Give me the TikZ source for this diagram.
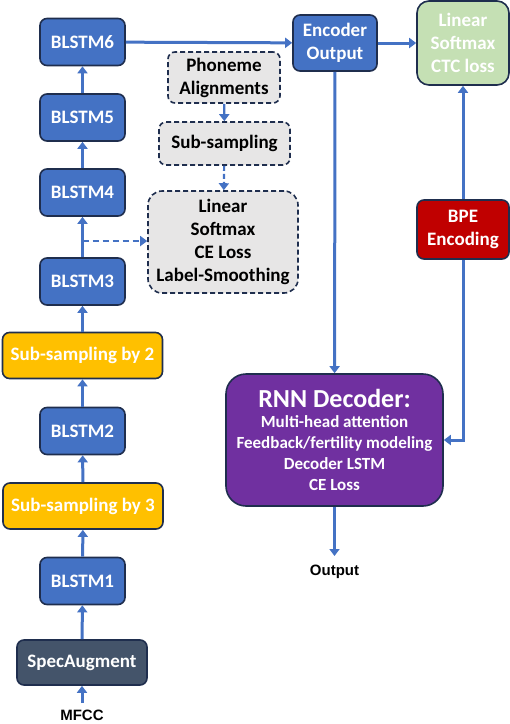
\documentclass[tikz,border=0pt]{standalone}
\usepackage{fontspec}
\setmainfont{Carlito}
\newfontfamily\arialf{Liberation Sans}
\usetikzlibrary{arrows.meta,calc}
\definecolor{bblue}{HTML}{4472C4}
\definecolor{navy}{HTML}{1F2E4E}
\definecolor{ggray}{HTML}{E7E6E6}
\definecolor{yell}{HTML}{FFC000}
\definecolor{slate}{HTML}{44546A}
\definecolor{purp}{HTML}{7030A0}
\definecolor{gree}{HTML}{C5E0B4}
\definecolor{bred}{HTML}{C00000}
\begin{document}
\begin{tikzpicture}[x=1pt,y=-1pt,
  box/.style={draw=navy,line width=1.6pt,rounded corners=7pt,align=center,inner sep=0pt,
     font=\fontsize{19}{23}\selectfont\bfseries},
  blstm/.style={box,fill=bblue,text=white,minimum width=85pt,minimum height=47pt},
  yellbox/.style={box,fill=yell,text=white,minimum width=160pt,minimum height=46pt},
  dbox/.style={box,dashed,dash pattern=on 5pt off 3pt,fill=ggray,text=black},
  arr/.style={draw=bblue,line width=3pt,-{Triangle[length=7pt,width=10pt]}},
  lbl/.style={font=\arialf\fontsize{15}{18}\selectfont\bfseries,inner sep=0pt}]
\useasboundingbox (0,0) rectangle (510,724);
% left column
\node[blstm] (b6) at (82.5,42) {BLSTM6};
\node[blstm] (b5) at (82.5,117.5) {BLSTM5};
\node[blstm] (b4) at (82.5,192.5) {BLSTM4};
\node[blstm] (b3) at (82.5,281.5) {BLSTM3};
\node[yellbox] (s2) at (82.5,355.5) {Sub-sampling by 2};
\node[blstm] (b2) at (82.5,431) {BLSTM2};
\node[yellbox] (s3) at (83,506) {Sub-sampling by 3};
\node[blstm] (b1) at (82.5,581) {BLSTM1};
\node[box,fill=slate,text=white,minimum width=130pt,minimum height=45pt] (spec) at (82,662.5) {SpecAugment};
\node[lbl] (mfcc) at (82,715) {MFCC};
% dashed boxes
\node[dbox,minimum width=112pt,minimum height=51pt] (pa) at (224,77.5) {Phoneme\\Alignments};
\node[dbox,minimum width=131pt,minimum height=43pt] (ss) at (224.5,143.5) {Sub-sampling};
\node[dbox,minimum width=150pt,minimum height=102pt,rounded corners=14pt] (lin) at (223,242) {Linear\\Softmax\\CE Loss\\Label-Smoothing};
% right part
\node[box,fill=bblue,text=white,minimum width=84pt,minimum height=56pt] (enc) at (335,43) {Encoder\\Output};
\node[box,fill=gree,text=white,minimum width=92pt,minimum height=84pt,rounded corners=12pt] (ctc) at (463,43) {Linear\\Softmax\\CTC loss};
\node[box,fill=bred,text=white,minimum width=92pt,minimum height=59pt] (bpe) at (463,229.5) {BPE\\Encoding};
\node[box,fill=purp,text=white,minimum width=217pt,minimum height=132pt,rounded corners=20pt,
      font=\fontsize{17}{21}\selectfont\bfseries] (rnn) at (334.5,440)
  {{\fontsize{26}{28}\selectfont RNN Decoder:}\\[-1pt]Multi-head attention\\Feedback/fertility modeling\\Decoder LSTM\\CE Loss};
\node[lbl] (out) at (334.5,572) {Output};
\coordinate (outend) at (334.5,556);
\coordinate (mfcctop) at (82,703);
% connectors
\draw[arr] (mfcctop) -- (spec);
\draw[arr] (spec) -- (b1);
\draw[arr] (b1) -- (s3);
\draw[arr] (s3) -- (b2);
\draw[arr] (b2) -- (s2);
\draw[arr] (s2) -- (b3);
\draw[arr] (b3) -- (b4);
\coordinate (br) at ($(b3.north)!0.4!(b4.south)$);
\draw[arr,dashed,dash pattern=on 6pt off 4pt,line width=2.2pt] (br) -- (br -| lin.west);
\draw[arr] (b4) -- (b5);
\draw[arr] (b5) -- (b6);
\draw[arr] (b6) -- (enc);
\draw[arr] (enc) -- (ctc);
\draw[arr,line width=2.2pt] (pa) -- (ss);
\draw[arr,dashed,dash pattern=on 5pt off 3pt,line width=2.2pt] (ss) -- (lin);
\draw[arr] (enc) -- (rnn);
\draw[arr] (bpe) -- (ctc);
\draw[arr] (bpe.south) |- (rnn.east);
\draw[arr] (rnn) -- (outend);
\end{tikzpicture}
\end{document}
